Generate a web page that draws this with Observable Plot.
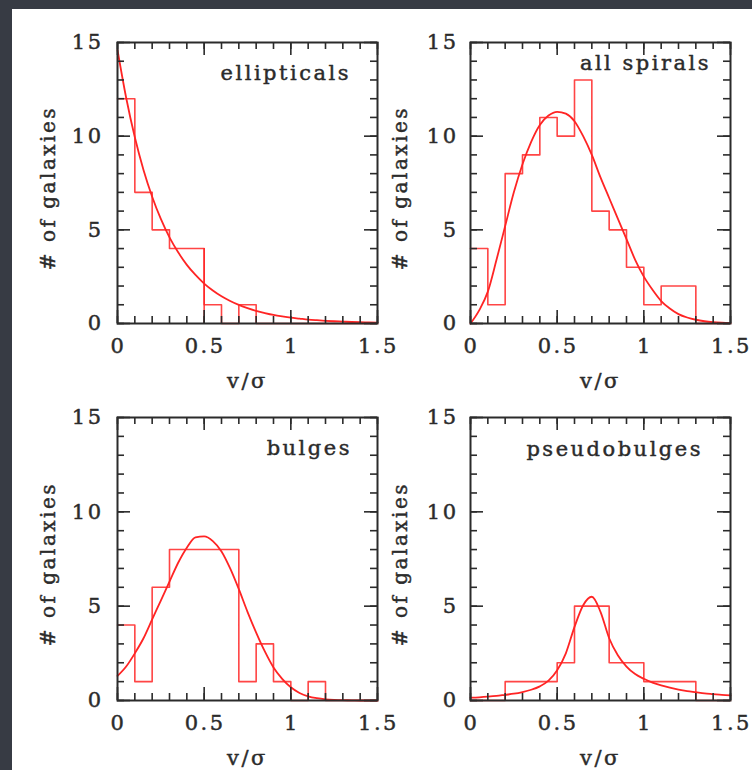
<!DOCTYPE html>
<html>
<head>
<meta charset="utf-8">
<script src="https://cdn.jsdelivr.net/npm/d3@7"></script>
<script src="https://cdn.jsdelivr.net/npm/@observablehq/plot@0.6"></script>
<style>
  html, body { margin: 0; padding: 0; background: #373b44; }
  #stage { position: relative; width: 752px; height: 770px; overflow: hidden; background: #373b44; }
  #sheet { position: absolute; left: 12px; top: 9px; right: 0; bottom: 0; background: #ffffff; }
  .panel { position: absolute; }
  .panel svg { overflow: visible; }
  .panel svg text { letter-spacing: 2.5px; }
</style>
</head>
<body>
<div id="stage"><div id="sheet"></div></div>
<script>
// ---------- data ----------
const binEdges = [0, 0.1, 0.2, 0.3, 0.4, 0.5, 0.6, 0.7, 0.8, 0.9, 1.0, 1.1, 1.2, 1.3, 1.4, 1.5];

const ellipticalCounts = [12, 7, 5, 4, 4, 1, 0, 1, 0, 0, 0, 0, 0, 0, 0];
const spiralCounts     = [4, 1, 8, 9, 11, 10, 13, 6, 5, 3, 1, 2, 2, 0, 0];
const bulgeCounts      = [4, 1, 6, 8, 8, 8, 8, 1, 3, 1, 0, 1, 0, 0, 0];
const pseudoCounts     = [0, 0, 1, 1, 1, 2, 5, 5, 2, 2, 1, 1, 1, 0, 0];

// bin edges where the outline drops to the baseline
const ellipticalDrops = [0.5];

const curveX = [0, 0.05, 0.1, 0.15, 0.2, 0.25, 0.3, 0.35, 0.4, 0.45, 0.5, 0.55, 0.6, 0.65, 0.7,
                0.75, 0.8, 0.85, 0.9, 0.95, 1.0, 1.05, 1.1, 1.15, 1.2, 1.25, 1.3, 1.35, 1.4, 1.45, 1.5];
const ellipticalCurve = [14.6, 12.05, 9.94, 8.2, 6.77, 5.58, 4.6, 3.8, 3.13, 2.59, 2.13, 1.76, 1.45, 1.2, 0.99,
                         0.82, 0.67, 0.56, 0.46, 0.38, 0.31, 0.26, 0.21, 0.175, 0.145, 0.12, 0.1, 0.08, 0.066, 0.055, 0.045];
const spiralCurve = [0, 0.7, 1.7, 3.4, 5.2, 7.0, 8.5, 9.7, 10.6, 11.1, 11.3, 11.2, 10.8, 10.0, 9.0,
                     7.8, 6.7, 5.6, 4.5, 3.4, 2.5, 1.8, 1.2, 0.8, 0.5, 0.32, 0.2, 0.12, 0.07, 0.04, 0.02];
const bulgeCurve = [1.3, 1.8, 2.5, 3.3, 4.3, 5.3, 6.3, 7.3, 8.1, 8.65, 8.7, 8.45, 7.9, 7.0, 5.9,
                    4.7, 3.6, 2.6, 1.75, 1.15, 0.7, 0.4, 0.22, 0.12, 0.06, 0.03, 0.015, 0.01, 0, 0, 0];
const pseudoCurve = [0.15, 0.17, 0.2, 0.24, 0.3, 0.36, 0.45, 0.57, 0.75, 1.05, 1.6, 2.5, 3.9, 5.05, 5.5,
                     4.7, 3.3, 2.4, 1.8, 1.4, 1.15, 0.95, 0.8, 0.68, 0.58, 0.5, 0.44, 0.38, 0.34, 0.3, 0.27];

const panelNames = ["ellipticals", "all spirals", "bulges", "pseudobulges"];

const xMajorTicks = [0, 0.5, 1, 1.5];
const xMajorLabels = ["0", "0.5", "1", "1.5"];
const xMinorTicks = [0, 0.1, 0.2, 0.3, 0.4, 0.5, 0.6, 0.7, 0.8, 0.9, 1.0, 1.1, 1.2, 1.3, 1.4, 1.5];
const yMajorTicks = [0, 5, 10, 15];
const yMajorLabels = ["0", "5", "10", "15"];
const yMinorTicks = [0, 1, 2, 3, 4, 5, 6, 7, 8, 9, 10, 11, 12, 13, 14, 15];

const xLabel = "v/σ";
const yLabel = "# of galaxies";

// ---------- layout / style ----------
const layout = [
  {left: 0,   top: 0,   width: 380, height: 392, mL: 117, mR: 3,  mT: 42, mB: 69, tickDx: -14, yLabDx: -69, nameInset: 29, nameTop: 23},
  {left: 380, top: 0,   width: 372, height: 392, mL: 90,  mR: 22, mT: 42, mB: 69, tickDx: -12, yLabDx: -70, nameInset: 22, nameTop: 13},
  {left: 0,   top: 392, width: 380, height: 378, mL: 117, mR: 3,  mT: 25, mB: 70, tickDx: -14, yLabDx: -69, nameInset: 28, nameTop: 23},
  {left: 380, top: 392, width: 372, height: 378, mL: 90,  mR: 22, mT: 25, mB: 70, tickDx: -12, yLabDx: -70, nameInset: 30, nameTop: 24}
];
const ink = "#2b2b2b";
const red = "#ff2424";
const textStyle = {fill: ink, stroke: ink, strokeWidth: 0.45, fontSize: 21};

const panelData = [
  {counts: ellipticalCounts, curve: ellipticalCurve, drops: ellipticalDrops},
  {counts: spiralCounts, curve: spiralCurve, drops: []},
  {counts: bulgeCounts, curve: bulgeCurve, drops: []},
  {counts: pseudoCounts, curve: pseudoCurve, drops: []}
];

const stage = document.getElementById("stage");

panelData.forEach((p, i) => {
  const L = layout[i];
  const frameW = L.width - L.mL - L.mR;
  const frameH = L.height - L.mT - L.mB;

  const steps = binEdges.map((e, k) => ({x: e, y: p.counts[Math.min(k, p.counts.length - 1)]}));
  const curvePts = curveX.map((x, k) => ({x, y: p.curve[k]}));
  const dropPts = p.drops.map(x => ({x, y: p.counts[binEdges.indexOf(x) - 1]}));

  const chart = Plot.plot({
    width: L.width,
    height: L.height,
    marginLeft: L.mL,
    marginRight: L.mR,
    marginTop: L.mT,
    marginBottom: L.mB,
    x: {domain: [0, 1.5], axis: null},
    y: {domain: [0, 15], axis: null},
    style: {background: "transparent", fontFamily: "'DejaVu Serif', serif", fontSize: "21px", overflow: "visible"},
    marks: [
      Plot.line(steps, {x: "x", y: "y", curve: "step-after", stroke: red, strokeWidth: 1.6, strokeOpacity: 0.85}),
      Plot.ruleX(dropPts, {x: "x", y1: 0, y2: "y", stroke: red, strokeWidth: 1.6, strokeOpacity: 0.85}),
      Plot.line(curvePts, {x: "x", y: "y", curve: "monotone-x", stroke: red, strokeWidth: 1.8}),
      Plot.tickX(xMinorTicks, {x: d => d, insetTop: frameH - 7, stroke: ink, strokeWidth: 1.6}),
      Plot.tickX(xMinorTicks, {x: d => d, insetBottom: frameH - 7, stroke: ink, strokeWidth: 1.6}),
      Plot.tickX(xMajorTicks, {x: d => d, insetTop: frameH - 13, stroke: ink, strokeWidth: 1.6}),
      Plot.tickX(xMajorTicks, {x: d => d, insetBottom: frameH - 13, stroke: ink, strokeWidth: 1.6}),
      Plot.tickY(yMinorTicks, {y: d => d, insetRight: frameW - 7, stroke: ink, strokeWidth: 1.6}),
      Plot.tickY(yMinorTicks, {y: d => d, insetLeft: frameW - 7, stroke: ink, strokeWidth: 1.6}),
      Plot.tickY(yMajorTicks, {y: d => d, insetRight: frameW - 13, stroke: ink, strokeWidth: 1.6}),
      Plot.tickY(yMajorTicks, {y: d => d, insetLeft: frameW - 13, stroke: ink, strokeWidth: 1.6}),
      Plot.frame({stroke: ink, strokeWidth: 2}),
      Plot.text(xMajorTicks, {x: d => d, frameAnchor: "bottom", dy: 29, dx: 1, text: (d, k) => xMajorLabels[k], ...textStyle}),
      Plot.text(yMajorTicks, {y: d => d, frameAnchor: "left", dx: L.tickDx, textAnchor: "end",
        text: (d, k) => yMajorLabels[k], ...textStyle}),
      Plot.text([xLabel], {frameAnchor: "bottom", dy: 64, text: d => d, ...textStyle}),
      Plot.text([yLabel], {frameAnchor: "left", dx: L.yLabDx, dy: 5, rotate: -90, textAnchor: "middle", lineAnchor: "middle",
        text: d => d, ...textStyle, fontSize: 20, style: "word-spacing:5px"}),
      Plot.text([panelNames[i]], {frameAnchor: "top-right", dx: -L.nameInset + 2.5, dy: L.nameTop,
        textAnchor: "end", text: d => d, ...textStyle})
    ]
  });
  const wrap = document.createElement("div");
  wrap.className = "panel";
  wrap.style.left = L.left + "px";
  wrap.style.top = L.top + "px";
  wrap.appendChild(chart);
  stage.appendChild(wrap);
});
</script>
</body>
</html>
